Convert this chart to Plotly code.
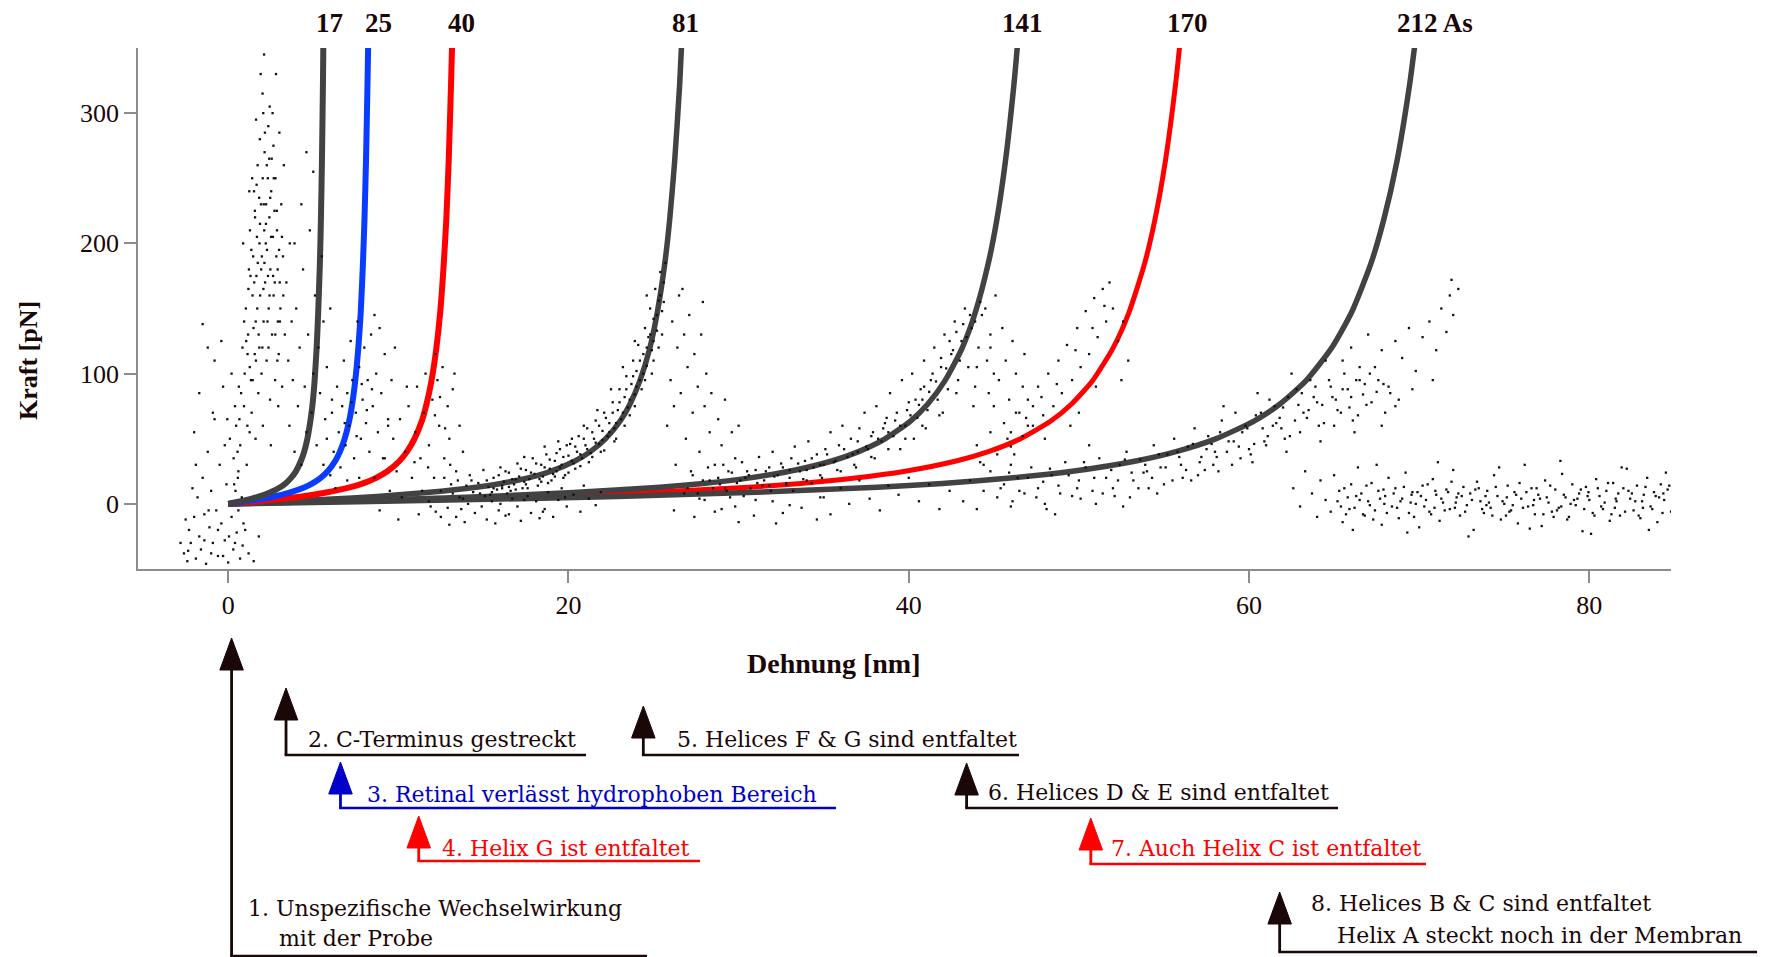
import plotly.graph_objects as go

# ---------------- data ----------------
x_ticks = [0, 20, 40, 60, 80]
y_ticks = [0, 100, 200, 300]

contour_labels = ["17", "25", "40", "81", "141", "170", "212 As"]
label_x_nm = [5.96, 8.84, 13.7, 26.9, 46.7, 56.4, 70.9]

# WLC fit curves (force in pN, extension in nm for each contour length)
wlc_force = [0, 1.6, 3.5, 5.7, 8.7, 12.8, 15.7, 19.6, 25.0, 33.1, 40.1, 49.7,
             63.6, 76.7, 94.6, 120.0, 146.9, 184.4, 218.3, 262.9, 323.1, 361.5]
ext_17 = [0, 0.61, 1.22, 1.84, 2.45, 3.06, 3.37, 3.67, 3.98, 4.28, 4.47, 4.65,
          4.83, 4.96, 5.08, 5.20, 5.29, 5.39, 5.45, 5.51, 5.57, 5.60]
ext_25 = [0, 0.9, 1.8, 2.7, 3.6, 4.5, 4.95, 5.4, 5.85, 6.3, 6.57, 6.84,
          7.11, 7.29, 7.47, 7.65, 7.79, 7.92, 8.01, 8.10, 8.19, 8.24]
ext_40 = [0, 1.44, 2.88, 4.32, 5.76, 7.2, 7.92, 8.64, 9.36, 10.08, 10.51, 10.94,
          11.38, 11.66, 11.95, 12.24, 12.46, 12.67, 12.82, 12.96, 13.10, 13.18]
ext_81 = [0, 2.92, 5.83, 8.75, 11.66, 14.58, 16.04, 17.50, 18.95, 20.41, 21.29, 22.16,
          23.04, 23.62, 24.20, 24.79, 25.22, 25.66, 25.95, 26.24, 26.54, 26.68]
ext_141 = [0, 5.08, 10.15, 15.23, 20.30, 25.38, 27.92, 30.46, 32.99, 35.53, 37.05, 38.58,
           40.10, 41.12, 42.13, 43.15, 43.91, 44.67, 45.18, 45.68, 46.19, 46.45]
ext_170 = [0, 6.12, 12.24, 18.36, 24.48, 30.6, 33.66, 36.72, 39.78, 42.84, 44.68, 46.51,
           48.35, 49.57, 50.80, 52.02, 52.94, 53.86, 54.47, 55.08, 55.69, 56.0]
ext_212 = [0, 7.63, 15.26, 22.90, 30.53, 38.16, 41.98, 45.79, 49.61, 53.42, 55.71, 58.0,
           60.29, 61.82, 63.35, 64.87, 66.02, 67.16, 67.92, 68.69, 69.45, 69.83]

cloud_start_sparse = [(-2.6,-38),(-2.4,-44),(-2.3,-20),(-2.2,-30),(-2.0,-10),(-1.9,-42),(-1.8,5),(-1.7,-25),
    (-1.6,-35),(-1.5,20),(-1.4,-8),(-1.3,-46),(-1.2,40),(-1.1,-18),(-1.0,10),(-0.9,-30),(-0.8,65),(-0.7,-5),
    (-0.6,-40),(-0.5,30),(-0.4,-15),(-0.3,90),(-0.2,-28),(-0.1,15),(0.0,-45),(0.1,50),(0.2,-10),(0.3,-35),
    (0.4,75),(0.5,-22),(0.6,25),(0.7,-42),(0.8,5),(0.9,-15),(-1.5,138),(-1.2,120),(-0.8,110),(-2.0,55),
    (-1.7,85),(-0.4,125),(0.2,100),(-1.0,-38),(-2.5,-12),(-0.2,45),(0.6,-5),(1.5,-44),(1.8,-25),(1.2,-38),
    (-2.1,12),(-1.4,-28),(-0.6,-20),(0.4,-30),(1.0,-20),(-2.8,-30),(-1.9,30),(-0.9,70),(-0.3,-40),
    (0.05,-25),(0.55,40),(-1.15,-5),(-2.35,-36),(0.85,-32),(-0.05,65),(0.35,15)]
cloud_start_peak = [(0.32,35),(0.47,60),(0.63,90),(0.71,45),(0.84,120),(0.93,75),(1.04,150),(0.97,100),
    (1.13,60),(1.22,180),(1.17,130),(1.34,95),(1.28,210),(1.43,160),(1.38,70),(1.52,240),(1.47,190),
    (1.56,115),(1.62,140),(1.58,220),(1.73,260),(1.66,175),(1.77,85),(1.84,200),(1.79,130),(1.86,280),
    (1.93,230),(1.88,160),(1.96,100),(2.03,250),(1.98,190),(2.06,300),(2.12,210),(2.08,140),(2.14,270),
    (2.23,230),(2.17,170),(2.26,110),(2.33,250),(2.28,195),(2.36,290),(2.42,220),(2.38,150),(2.46,80),
    (2.53,240),(2.48,180),(2.56,265),(2.63,205),(2.58,130),(2.72,225),(2.67,160),(2.76,95),(2.83,190),
    (2.78,250),(2.92,140),(2.87,210),(3.03,170),(2.97,115),(3.12,230),(3.07,150),(3.22,190),(3.17,90),
    (3.33,130),(3.27,260),(3.42,170),(3.53,110),(3.62,200),(3.73,140),(1.91,330),(2.11,345),(2.02,315),
    (2.44,305),(2.81,330),(1.24,240),(0.88,200),(1.64,295),(3.01,285),(2.61,300),(0.43,10),(0.57,20),
    (1.09,30),(1.61,50),(2.04,60),(2.51,45),(1.41,250),(2.94,75),(1.82,235),(2.21,200),(2.64,175),
    (1.31,175),(2.01,120),(2.41,265),(1.69,205),(2.91,180),(1.14,115),(2.31,140)]
cloud_start_dense = [(1.06,125),(1.19,165),(1.27,105),(1.36,195),(1.49,135),(1.53,170),(1.67,245),
    (1.71,150),(1.87,215),(1.94,180),(2.09,230),(2.13,185),(2.27,260),(2.34,175),(2.47,235),(2.52,205),
    (2.68,250),(2.74,170),(2.86,225),(2.99,195),(3.04,140),(3.16,205),(1.44,95),(1.83,120),(2.37,120),
    (2.77,130),(2.16,285),(1.57,225),(2.66,275),(2.07,165),(0.76,85),(0.94,140),(1.26,55),(1.63,110),
    (2.43,160),(2.89,110),(3.24,160),(1.74,185),(2.22,215),(0.66,65)]
cloud_17 = [(3.6,60),(3.8,95),(3.9,40),(4.0,150),(4.1,75),(4.2,120),(4.3,30),(4.4,180),(4.5,90),(4.6,55),
    (4.7,130),(4.8,210),(4.9,70),(5.0,100),(5.1,160),(5.2,45),(5.3,120),(5.4,85),(5.5,190),(5.6,140),
    (5.7,65),(5.8,105),(6.0,150),(6.1,80),(4.3,230),(3.9,200),(5.0,255),(4.6,270)]
cloud_25 = [(5.6,30),(5.8,50),(6.0,22),(6.1,70),(6.2,40),(6.4,90),(6.5,55),(6.6,28),(6.7,75),(6.8,110),
    (6.9,45),(7.0,85),(7.1,60),(7.2,125),(7.3,95),(7.4,35),(7.5,70),(7.6,140),(7.7,105),(7.8,50),(7.9,80),
    (8.0,120),(8.1,62),(8.2,95),(8.3,40),(8.4,130),(8.5,75),(8.7,100),(8.8,55),(9.0,85),(9.2,115),(9.4,65),
    (9.6,95),(9.8,120),(8.6,145),(7.0,18),(6.3,12),(9.1,35),(8.9,135),(7.7,20),(7.25,78),(7.55,52),
    (7.85,92),(8.15,72),(6.85,62),(8.45,88)]
cloud_40 = [(8.6,20),(8.9,-5),(9.2,35),(9.5,10),(9.7,50),(9.9,25),(10.1,65),(10.2,5),(10.4,40),(10.6,75),
    (10.8,20),(11.0,55),(11.1,90),(11.3,35),(11.5,70),(11.6,100),(11.8,45),(12.0,80),(12.1,20),(12.3,95),
    (12.4,60),(12.6,105),(12.7,35),(12.9,75),(13.0,50),(13.2,88),(13.4,25),(13.6,60),(13.8,40),(10.0,-12),
    (11.2,-8),(12.5,-10),(9.4,60),(10.5,90),(11.9,-2),(13.3,100),(12.2,115),(11.4,10),(12.15,68),
    (12.45,82),(12.75,58),(11.75,28),(10.95,32),(13.05,30)]
cloud_81 = [(13.2,8),(13.5,18),(13.8,4),(14.0,14),(14.2,22),(14.4,9),(14.7,16),(15.0,26),(15.1,6),(15.3,13),
    (15.6,20),(15.8,11),(16.0,28),(16.2,17),(16.4,8),(16.5,24),(16.8,15),(17.0,31),(17.1,21),(17.3,12),
    (17.5,26),(17.7,19),(17.9,35),(18.0,23),(18.2,14),(18.4,30),(18.5,21),(18.7,38),(18.9,27),(19.0,18),
    (19.2,33),(19.3,25),(19.5,42),(19.6,30),(19.8,22),(20.0,37),(20.1,46),(20.3,31),(20.5,40),(20.6,52),
    (20.8,35),(21.0,45),(21.1,58),(21.3,39),(21.5,50),(21.6,64),(21.8,46),(22.0,56),(22.1,70),(22.3,52),
    (22.4,62),(22.6,78),(22.7,58),(22.9,72),(23.0,88),(23.1,65),(23.3,82),(23.4,98),(23.5,74),(23.7,92),
    (23.8,110),(23.9,84),(24.0,102),(24.1,122),(24.2,95),(24.4,115),(24.5,135),(24.6,106),(24.7,128),
    (24.8,150),(24.9,118),(25.0,142),(25.1,165),(25.2,133),(25.3,156),(25.4,178),(25.5,148),(25.6,170),
    (25.7,185),(25.3,120),(24.3,88),(23.6,68),(22.8,50),(21.9,40),(21.2,32),(20.4,27),(19.7,20),(18.8,16),
    (17.6,12),(16.6,10),(24.9,100),(25.5,130),(23.2,105),(22.5,88),(21.7,72),(20.9,60),(20.2,50),
    (19.4,48),(18.6,44),(17.4,36),(23.9,125),(24.6,160)]
cloud_81_dense = [(15.2,18),(15.5,9),(15.9,22),(16.1,14),(16.3,25),(16.7,19),(16.9,11),(17.2,27),(17.4,17),
    (17.8,24),(18.1,31),(18.3,19),(18.6,28),(18.9,34),(19.1,23),(19.3,39),(19.5,28),(19.7,36),(19.9,45),
    (20.2,33),(20.4,44),(20.7,38),(20.9,50),(21.1,42),(21.4,55),(21.6,47),(21.8,60),(22.0,49),(22.2,66),
    (22.4,55),(22.6,70),(22.8,62),(23.0,78),(23.2,70),(23.4,88),(23.6,80),(23.8,98),(24.0,90),(24.2,110),
    (24.4,100),(24.6,120),(24.8,130),(25.0,125),(25.2,145),(25.4,160),(25.6,155),(25.0,110),(24.5,95),
    (23.9,75),(23.3,60),(22.7,48),(22.1,41),(21.4,36),(20.7,29),(20.0,24),(19.2,21),(18.4,17),(17.5,15),
    (16.5,13),(15.6,12)]
cloud_81_low = [(11.8,2),(12.2,-6),(12.5,10),(12.9,-3),(13.1,15),(13.4,-10),(13.6,5),(13.9,-14),(14.1,0),
    (14.5,-7),(14.8,8),(15.2,-12),(15.5,2),(15.9,-5),(16.1,12),(16.3,-9),(16.7,4),(17.0,-2),(17.2,-13),
    (17.6,6),(17.8,-7),(18.1,2),(18.6,-4),(18.8,9),(19.1,-10),(19.4,3),(19.9,-2),(20.3,7),(20.7,-6),
    (21.2,4),(21.6,-1),(13.0,-16),(14.3,18),(15.7,-15),(16.9,19),(18.3,-11),(12.7,20),(19.6,12),(20.9,14),
    (21.9,9),(13.7,-4),(14.9,-2),(16.0,0),(17.4,3),(18.5,-6),(19.8,5),(15.4,7),(16.5,-8)]
cloud_after_81 = [(25.8,60),(26.0,95),(26.1,140),(26.2,75),(26.4,120),(26.5,160),(26.6,85),(26.8,130),
    (26.9,50),(27.0,105),(27.1,145),(27.3,70),(27.4,115),(27.6,90),(27.7,40),(27.8,130),(28.0,75),(28.1,100),
    (28.3,55),(28.4,85),(28.6,30),(28.8,65),(29.0,45),(29.2,80),(29.4,25),(29.6,55),(29.8,35),(30.0,60),
    (27.2,25),(26.3,30),(28.9,15),(27.9,155),(26.7,165)]
cloud_141 = [(27.0,12),(27.3,22),(27.6,8),(27.9,18),(28.2,28),(28.5,12),(28.8,20),(29.1,30),(29.3,10),
    (29.6,24),(29.9,16),(30.2,32),(30.4,20),(30.7,12),(31.0,26),(31.2,36),(31.5,18),(31.8,28),(32.0,40),
    (32.3,22),(32.5,31),(32.8,15),(33.1,35),(33.3,44),(33.6,25),(33.9,33),(34.1,48),(34.4,28),(34.6,38),
    (34.9,20),(35.1,42),(35.4,55),(35.6,32),(35.9,45),(36.1,60),(36.4,36),(36.6,50),(36.9,28),(37.1,58),
    (37.4,70),(37.6,42),(37.9,55),(38.1,75),(38.4,48),(38.6,62),(38.9,85),(39.1,52),(39.3,70),(39.6,95),
    (39.8,60),(40.0,78),(40.2,100),(40.5,66),(40.7,88),(40.9,110),(41.1,72),(41.3,95),(41.5,120),(41.7,80),
    (41.9,105),(42.1,130),(42.3,88),(42.5,115),(42.7,140),(42.9,95),(43.1,125),(43.3,150),(43.5,105),
    (43.7,135),(43.9,90),(44.1,120),(44.3,145),(44.6,110),(44.8,130),(45.0,100),(36.0,25),(38.0,35),
    (40.3,50),(42.0,70),(34.0,18),(31.9,10),(29.5,5),(43.8,75),(41.0,58),(39.5,42),(33.0,26),(35.0,30),
    (37.0,40),(30.5,25),(38.7,66),(40.8,80)]
cloud_141_dense = [(30.1,18),(30.6,22),(31.1,16),(31.6,25),(32.1,21),(32.6,28),(33.0,20),(33.5,31),(34.0,26),
    (34.3,35),(34.8,30),(35.2,38),(35.7,33),(36.2,42),(36.7,38),(37.0,48),(37.5,44),(37.8,52),(38.2,50),
    (38.5,58),(38.8,55),(39.2,64),(39.5,60),(39.9,72),(40.1,68),(40.4,80),(40.6,76),(40.9,90),(41.2,86),
    (41.4,100),(41.6,94),(41.9,112),(42.2,104),(42.4,125),(42.6,118),(42.8,132),(43.0,110),(43.2,138),
    (43.4,128),(43.6,145),(43.9,140),(44.2,155),(44.0,105),(42.8,85),(41.8,68),(40.8,60),(39.8,50),
    (38.8,42),(37.8,36),(36.8,30),(35.8,26),(34.8,22),(33.8,19),(32.8,16),(31.8,14)]
cloud_141_low = [(26.2,-5),(26.8,8),(27.4,-10),(28.0,3),(28.6,-6),(29.2,12),(29.8,-2),(30.3,6),(30.9,-9),
    (31.4,14),(32.0,2),(32.6,-7),(33.2,10),(33.7,-3),(34.3,16),(34.8,5),(35.4,-8),(36.0,12),(36.5,0),
    (37.1,18),(37.7,4),(38.3,-5),(38.8,14),(39.4,7),(40.0,20),(40.6,2),(41.2,15),(41.8,-4),(42.4,10),
    (30.0,-14),(32.2,-15),(34.6,-12),(28.3,18),(27.7,4),(29.0,-4),(31.0,3),(33.0,-1),(35.0,5)]
cloud_after_141 = [(44.5,150),(44.8,120),(45.1,160),(45.3,95),(45.5,135),(45.7,110),(45.9,80),(46.1,125),
    (46.3,100),(46.5,70),(46.7,90),(47.0,60),(47.3,75),(45.0,75),(46.0,55),(44.7,85),(46.8,115)]
cloud_170 = [(44.0,45),(44.4,30),(44.8,55),(45.2,38),(45.6,62),(46.0,44),(46.3,70),(46.7,52),(47.0,80),
    (47.3,60),(47.6,90),(47.9,68),(48.2,100),(48.5,75),(48.8,110),(49.0,85),(49.3,122),(49.6,95),(49.9,135),
    (50.1,105),(50.4,148),(50.6,115),(50.9,158),(51.1,128),(51.4,165),(51.6,140),(51.8,170),(52.0,150),
    (52.3,125),(52.6,140),(52.9,110),(50.0,70),(48.0,50),(46.0,30),(51.0,90),(49.5,60),(52.5,95),
    (47.8,82),(48.7,92),(49.8,118),(50.8,135),(51.5,152),(46.9,66),(45.8,50)]
cloud_212 = [(43.2,2),(43.6,18),(44.0,-4),(44.4,10),(44.8,25),(45.2,5),(45.6,15),(46.0,-2),(46.4,20),
    (46.8,8),(47.2,28),(47.6,12),(48.0,0),(48.4,22),(48.8,14),(49.2,32),(49.6,6),(50.0,18),(50.4,28),
    (50.8,10),(51.2,35),(51.6,20),(52.0,12),(52.4,30),(52.8,40),(53.2,18),(53.6,34),(54.0,25),(54.4,45),
    (54.8,28),(55.2,38),(55.6,50),(56.0,30),(56.4,44),(56.8,58),(57.2,36),(57.6,52),(58.0,40),(58.4,64),
    (58.8,48),(59.2,70),(59.6,55),(60.0,42),(60.4,68),(60.8,58),(61.2,80),(61.6,62),(62.0,74),(62.4,52),
    (62.8,88),(63.2,70),(63.6,95),(64.0,78),(64.4,62),(64.8,90),(65.2,72),(65.6,100),(66.0,82),(66.4,68),
    (66.8,92),(67.2,78),(67.6,95),(68.0,70),(68.3,85),(57.0,22),(59.0,30),(61.0,45),(63.0,55),(65.0,60),
    (55.0,15),(53.0,5),(51.0,0),(62.5,100),(60.5,85),(58.5,75),(64.5,110),(66.5,105),(67.8,60),(44.2,32),
    (46.2,38),(48.6,-8),(50.6,45),(52.6,-2),(54.6,8),(56.6,18),(58.2,25),(60.2,32),(62.2,40),(64.2,48),
    (66.2,55),(68.6,75),(59.8,60),(61.8,66),(63.8,82),(65.8,88),(57.8,46),(55.8,40),(53.8,24)]
cloud_212_dense = [(45.4,12),(45.9,24),(46.5,10),(47.0,20),(47.5,5),(47.9,17),(48.3,27),(48.9,8),(49.4,22),
    (49.9,12),(50.3,32),(50.9,20),(51.4,8),(51.9,26),(52.3,18),(52.7,34),(53.1,24),(53.5,12),(53.9,30),
    (54.3,20),(54.7,38),(55.1,28),(55.5,18),(55.9,36),(56.3,26),(56.7,46),(57.1,32),(57.5,42),(57.9,30),
    (58.3,55),(58.7,40),(59.1,48),(59.5,35),(59.9,58),(60.3,46),(60.7,70),(61.1,52),(61.5,75),(61.9,58),
    (62.3,82),(62.7,64),(63.1,85),(63.5,72),(63.9,90),(64.3,76),(64.7,95),(65.1,80),(65.5,88),(65.9,74),
    (66.3,95),(66.7,84),(67.1,100),(67.5,86),(67.9,92),(56.1,20),(58.1,36),(60.1,38),(62.1,50),(64.1,60),
    (66.1,64),(54.1,12),(52.1,6),(50.1,4),(48.1,-4),(46.1,2),(57.4,26),(59.4,44),(61.4,60),(63.4,66),
    (65.4,70),(60.9,48),(62.9,76),(64.9,82),(66.9,76)]
cloud_212_peak = [(65.5,110),(66.0,120),(66.5,95),(67.0,130),(67.4,105),(67.8,118),(68.2,90),(68.6,125),
    (69.0,112),(69.4,135),(69.8,102),(70.2,128),(70.6,140),(71.0,118),(71.3,150),(71.6,132),(71.8,160),
    (72.0,145),(72.3,165),(71.9,172),(69.6,88),(68.8,80),(70.8,95)]
cloud_baseline = [(62.6,12),(63.0,-2),(63.3,25),(63.7,8),(64.0,-10),(64.2,18),(64.5,3),(64.8,-6),(65.0,22),
    (65.3,10),(65.5,-14),(65.8,5),(66.0,15),(66.2,-3),(66.4,28),(66.6,8),(66.8,-9),(67.0,2),(67.2,16),
    (67.4,-5),(67.6,10),(67.8,-16),(68.0,6),(68.2,20),(68.4,-2),(68.6,12),(68.8,-11),(69.0,4),(69.2,24),
    (69.4,-7),(69.6,9),(69.8,0),(70.0,-18),(70.2,14),(70.4,3),(70.6,-6),(70.8,19),(71.0,7),(71.2,-13),
    (71.4,1),(71.6,11),(71.8,-4),(72.0,26),(72.2,5),(72.4,-9),(72.6,13),(72.8,-1),(73.0,8),(73.2,-20),
    (73.4,17),(73.6,2),(73.8,-7),(74.0,10),(74.2,-3),(74.4,22),(74.6,6),(74.8,-12),(75.0,0),(75.2,14),
    (75.4,-5),(75.6,9),(75.8,-15),(76.0,4),(76.2,30),(76.4,-2),(76.6,12),(76.8,-8),(77.0,7),(77.2,-17),
    (77.4,18),(77.6,1),(77.8,-6),(78.0,11),(78.2,-3),(78.4,23),(78.6,5),(78.8,-10),(79.0,15),(79.2,-1),
    (79.4,8),(79.6,-21),(79.8,13),(80.0,3),(80.2,-7),(80.4,19),(80.6,6),(80.8,-4),(81.0,10),(81.2,-13),
    (81.4,16),(81.6,2),(81.8,-9),(82.0,12),(82.2,27),(82.4,4),(82.6,-5),(82.8,14),(83.0,-11),(83.2,7),
    (83.4,20),(83.6,-2),(83.8,9),(84.0,-14),(84.2,15),(84.4,3),(84.6,11),(84.8,-6),(66.1,-20),(67.5,30),
    (69.3,-22),(71.1,32),(72.9,-25),(74.7,28),(76.5,-19),(78.3,33),(80.1,-23),(81.9,28),(83.5,-20),
    (84.5,24),(68.9,2),(70.9,-3),(72.5,6),(74.1,1),(75.5,-1),(77.1,4),(78.9,0),(80.7,-2),(82.5,8),(84.1,5),
    (65.7,-8),(67.3,-12),(69.9,9),(73.3,11),(75.1,-9),(77.9,-10),(79.3,4),(81.3,-8),(83.1,2)]
cloud_baseline_dense = [(65.2,2),(65.6,12),(65.9,-4),(66.3,6),(66.7,-8),(66.9,14),(67.1,-1),(67.7,4),
    (67.9,11),(68.1,-7),(68.5,8),(68.7,-3),(69.1,13),(69.5,1),(69.7,-10),(70.1,6),(70.3,-2),(70.5,15),
    (70.7,-8),(71.3,4),(71.5,-5),(71.7,9),(71.9,17),(72.1,-3),(72.3,8),(72.7,-6),(73.1,3),(73.5,12),
    (73.7,-4),(73.9,6),(74.3,-9),(74.5,13),(74.9,2),(75.3,-6),(75.7,7),(75.9,16),(76.1,-3),(76.3,9),
    (76.7,-1),(76.9,12),(77.3,-8),(77.5,5),(77.7,14),(78.1,-5),(78.5,7),(78.7,-12),(79.1,3),(79.5,11),
    (79.7,-4),(79.9,6),(80.3,-9),(80.5,12),(80.9,1),(81.1,16),(81.5,-3),(81.7,8),(82.1,-6),(82.3,10),
    (82.7,2),(82.9,-9),(83.3,13),(83.7,-4),(83.9,6),(84.3,-7),(84.7,14),(65.4,-2),(66.5,3),(67.95,0),
    (69.55,7),(70.95,10),(72.15,1),(73.95,-1),(75.15,5),(76.75,3),(78.35,-2),(79.95,9),(81.55,4),
    (83.15,-3),(84.35,8)]

# annotation texts below the axis
step_x_nm = [0.2, 3.4, 6.6, 11.2, 24.4, 43.4, 50.7, 61.8]
step_texts = [
    ["1. Unspezifische Wechselwirkung", "mit der Probe"],
    ["2. C-Terminus gestreckt"],
    ["3. Retinal verlässt hydrophoben Bereich"],
    ["4. Helix G ist entfaltet"],
    ["5. Helices F & G sind entfaltet"],
    ["6. Helices D & E sind entfaltet"],
    ["7. Auch Helix C ist entfaltet"],
    ["8. Helices B & C sind entfaltet", "Helix A steckt noch in der Membran"],
]
BLACK = "#1a0707"
BLUE = "#0000c8"
RED = "#ff0000"
step_colors = [BLACK, BLACK, BLUE, RED, BLACK, BLACK, RED, BLACK]

# ---------------- layout geometry (pixels) ----------------
W, H = 1766, 957
PL, PR, PT, PB = 138, 1671, 48, 569
XMIN, XMAX = -5.3, 84.8
YMIN, YMAX = -50, 350

def px_x(px):
    return (px - PL) / (PR - PL)

def px_y(py):
    return (PB - py) / (PB - PT)

def nm_px(x):
    return PL + (x - XMIN) / (XMAX - XMIN) * (PR - PL)

# per-step geometry: arrow tip y, line bottom y, underline end x, text left x, text centre ys
step_tip = [638, 688, 762, 816, 706, 763, 818, 892]
step_bottom = [956, 755, 808, 861, 755, 808, 864, 952]
step_end = [647, 586, 836, 700, 1019, 1338, 1426, 1757]
step_text_left = [[246, 277], [306], [365], [440], [675], [986], [1109], [1309, 1335]]
step_text_y = [[908, 938], [739], [794], [848], [739], [792], [848], [904, 935]]
HEAD_H, HEAD_W = 32, 23.5

fig = go.Figure()

GRAY = "#424242"
curves = [
    (ext_170, RED, 5),
    (ext_212, GRAY, 5.5),
    (ext_141, GRAY, 5.5),
    (ext_81, GRAY, 5.5),
    (ext_40, RED, 6),
    (ext_25, "#0a3cff", 6),
    (ext_17, GRAY, 6),
]
for ext, col, w in curves:
    fig.add_trace(go.Scatter(x=ext, y=wlc_force, mode="lines",
                             line=dict(color=col, width=w, shape="spline", smoothing=0.6),
                             hoverinfo="skip", showlegend=False))

clouds = [cloud_start_sparse, cloud_start_peak, cloud_start_dense, cloud_17, cloud_25, cloud_40,
          cloud_81, cloud_81_dense, cloud_81_low, cloud_after_81, cloud_141, cloud_141_dense,
          cloud_141_low, cloud_after_141, cloud_170, cloud_212, cloud_212_dense, cloud_212_peak,
          cloud_baseline, cloud_baseline_dense]
for c in clouds:
    fig.add_trace(go.Scatter(x=[p[0] for p in c], y=[p[1] for p in c], mode="markers",
                             marker=dict(color="#111111", size=2.3, symbol="square", line=dict(width=0)),
                             hoverinfo="skip", showlegend=False))

annotations = []
shapes = []

# curve labels on top
for lab, lx in zip(contour_labels, label_x_nm):
    annotations.append(dict(x=lx, y=px_y(23), xref="x", yref="paper", text=lab, showarrow=False,
                            xanchor="center", yanchor="middle",
                            font=dict(family="Liberation Serif", size=27, color=BLACK, weight="bold")))

# axis titles
annotations.append(dict(x=px_x(28), y=px_y(361), xref="paper", yref="paper", text="Kraft [pN]",
                        showarrow=False, textangle=-90, xanchor="center", yanchor="middle",
                        font=dict(family="Liberation Serif", size=26, color=BLACK, weight="bold")))
annotations.append(dict(x=px_x(833), y=px_y(663), xref="paper", yref="paper", text="Dehnung [nm]",
                        showarrow=False, xanchor="center", yanchor="middle",
                        font=dict(family="Liberation Serif", size=28, color=BLACK, weight="bold")))

for i in range(len(step_x_nm)):
    col = step_colors[i]
    xp = nm_px(step_x_nm[i])
    tip = step_tip[i]
    base = tip + HEAD_H
    bot = step_bottom[i]
    path = "M {a},{b} L {c},{d} L {e},{f} Z".format(
        a=px_x(xp - HEAD_W / 2), b=px_y(base), c=px_x(xp), d=px_y(tip), e=px_x(xp + HEAD_W / 2), f=px_y(base))
    shapes.append(dict(type="path", path=path, xref="paper", yref="paper",
                       fillcolor=col, line=dict(color=col, width=1)))
    shapes.append(dict(type="line", xref="paper", yref="paper", x0=px_x(xp), x1=px_x(xp),
                       y0=px_y(base - 2), y1=px_y(bot), line=dict(color=col, width=2.8)))
    shapes.append(dict(type="line", xref="paper", yref="paper", x0=px_x(xp - 1.4), x1=px_x(step_end[i]),
                       y0=px_y(bot), y1=px_y(bot), line=dict(color=col, width=2.4)))
    for t, tx, ty in zip(step_texts[i], step_text_left[i], step_text_y[i]):
        annotations.append(dict(x=px_x(tx), y=px_y(ty), xref="paper", yref="paper", text=t,
                                showarrow=False, xanchor="left", yanchor="middle",
                                font=dict(family="DejaVu Serif", size=22, color=col)))

axis_common = dict(showline=True, linecolor="#8c8c8c", linewidth=1.5, ticks="outside", ticklen=12,
                   tickwidth=1.5, tickcolor="#8c8c8c", showgrid=False, zeroline=False,
                   tickfont=dict(family="Liberation Serif", size=26, color=BLACK))

fig.update_layout(
    width=W, height=H,
    margin=dict(l=PL, r=W - PR, t=PT, b=H - PB, pad=0),
    paper_bgcolor="white", plot_bgcolor="white",
    xaxis=dict(range=[XMIN, XMAX], tickvals=x_ticks, **axis_common),
    yaxis=dict(range=[YMIN, YMAX], tickvals=y_ticks, **axis_common),
    annotations=annotations, shapes=shapes,
    showlegend=False,
)

fig.write_html("out.html")
